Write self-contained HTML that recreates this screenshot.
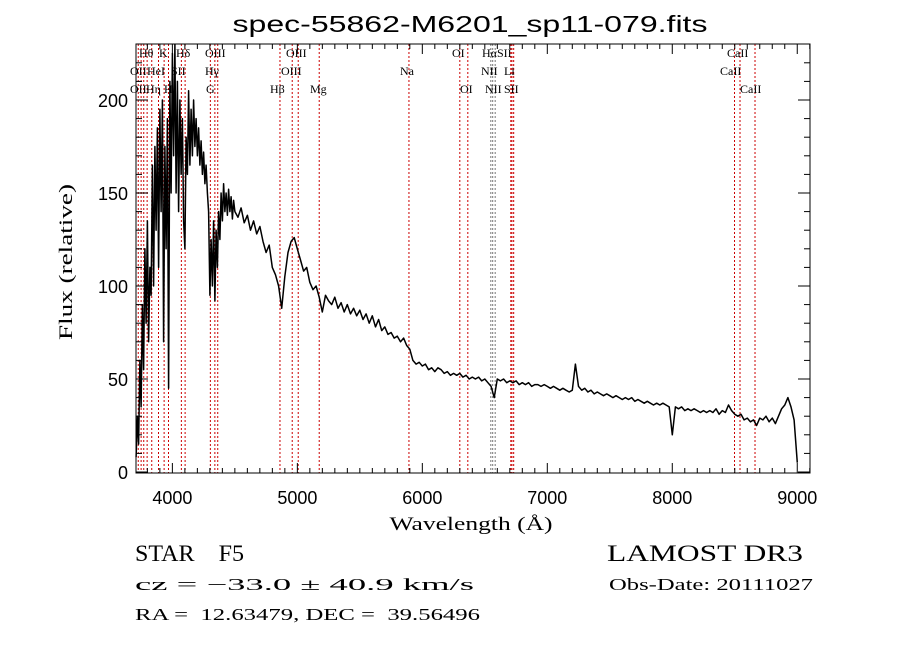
<!DOCTYPE html>
<html><head><meta charset="utf-8"><style>
html,body{margin:0;padding:0;background:#fff;}
svg{display:block;}
.t{font-family:"Liberation Sans","DejaVu Sans",sans-serif;fill:#000;}
.s{font-family:"Liberation Serif","DejaVu Serif",serif;fill:#000;white-space:pre;}
</style></head><body>
<svg id="chart" width="900" height="649" viewBox="0 0 900 649">
<rect width="900" height="649" fill="#fff"/>
<text class="t" x="470" y="32" text-anchor="middle" font-size="23" textLength="475" lengthAdjust="spacingAndGlyphs">spec-55862-M6201_sp11-079.fits</text>
<g id="lines"></g>
<g id="axes"></g>
<path id="spec" fill="none" stroke="#000" stroke-width="1.5" stroke-linejoin="round"/>
<rect x="136" y="44" width="674" height="429" fill="none" stroke="#000" stroke-width="1"/>
<text class="s" x="471" y="530" text-anchor="middle" font-size="19" textLength="163" lengthAdjust="spacingAndGlyphs">Wavelength (Å)</text>
<text class="s" transform="translate(72,262) rotate(-90)" text-anchor="middle" font-size="19" textLength="156" lengthAdjust="spacingAndGlyphs">Flux (relative)</text>
<text class="s" x="135" y="561" font-size="23" xml:space="preserve" textLength="109" lengthAdjust="spacingAndGlyphs">STAR    F5</text>
<text class="s" x="607" y="561" font-size="23" textLength="196" lengthAdjust="spacingAndGlyphs">LAMOST DR3</text>
<text class="s" x="135" y="590" font-size="17" textLength="339" lengthAdjust="spacingAndGlyphs">cz = −33.0 ± 40.9 km/s</text>
<text class="s" x="609" y="590" font-size="17" textLength="204" lengthAdjust="spacingAndGlyphs">Obs-Date: 20111027</text>
<text class="s" x="135" y="620" font-size="17" xml:space="preserve" textLength="345" lengthAdjust="spacingAndGlyphs">RA =  12.63479, DEC =  39.56496</text>
</svg>
<script>
// blue part: 3710..4500 Å, 10 Å sampling
const blueStart=3710, blueStep=10;
const blueFlux=[8,30,15,60,35,90,55,120,80,135,
70,110,95,165,100,175,130,185,110,195,
140,200,70,175,120,190,45,210,150,225,
170,230,150,210,140,200,160,190,135,120,
180,160,205,165,195,170,200,175,190,170,
185,165,178,160,172,155,165,150,140,95,
125,100,135,92,130,110,140,125,150,135,
155,140,150,138,152,140,148,136,146,140];
// red part: 4500..9000 Å, 25 Å sampling
const redStart=4500, redStep=25;
const redFlux=[140,137,142,134,138,130,135,128,132,124,
118,122,110,106,100,88,105,118,124,126,
120,114,108,110,102,98,100,94,86,95,
92,90,94,88,91,86,90,85,88,84,
87,82,85,80,84,78,82,76,78,74,
75,72,73,70,72,68,66,60,58,59,
57,58,55,56,54,56,55,53,54,52,
53,52,53,51,52,50,51,50,51,49,
50,48,46,40,50,49,50,48,49,48,
49,47,48,47,48,46,47,47,46,47,
46,45,46,45,44,45,44,43,44,58,
46,44,45,43,44,42,43,42,41,42,
41,40,41,40,39,40,39,40,38,39,
38,37,38,37,36,37,36,37,36,35,
20,35,34,35,33,34,33,34,33,32,
33,32,33,32,34,31,33,32,36,33,
31,30,31,28,29,27,28,25,29,28,
30,27,29,26,30,34,36,40,35,28,
5];
const lineWaves=[3727,3750,3771,3798,3835,3889,3934,3969,4072,4102,4304,4340,4363,4861,4959,5007,5175,5893,6300,6364,6548,6563,6583,6708,6717,6731,8498,8542,8662];
const lineLabels=[["Hθ",139,57],["K",159,57],["Hδ",176,57],["OIII",205,57],["OIII",286,57],["OI",452,57],["HαSII",482,57],["CaII",727,57],["OII",130,75],["HeI",147,75],["SII",171,75],["Hγ",205,75],["OIII",281,75],["Na",400,75],["NII",481,75],["Li",504,75],["CaII",720,75],["OII",130,93],["Hη",146,93],["H",164,93],["G",206,93],["Hβ",270,93],["Mg",310,93],["OI",460,93],["NII",485,93],["SII",504,93],["CaII",740,93]];
const xTicks=[4000,5000,6000,7000,8000,9000];
const yTicks=[0,50,100,150,200];
const X0=136,X1=810,W0=3709,W1=9102;
function xs(w){return X0+(w-W0)/(W1-W0)*(X1-X0);}
function ys(v){return 472-1.86*v;}
const NS="http://www.w3.org/2000/svg";
function mk(tag,attrs,parent){const e=document.createElementNS(NS,tag);for(const k in attrs)e.setAttribute(k,attrs[k]);parent.appendChild(e);return e;}
const lg=document.getElementById('lines');
lineWaves.forEach(w=>{
  const l=mk('line',{x1:xs(w),x2:xs(w),y1:44,y2:473,stroke:(w>6540&&w<6590)?'#777':'#c00',"stroke-width":1,"stroke-dasharray":"2,2"},lg);
  
  
});
lineLabels.forEach(a=>{
  const t=mk('text',{x:a[1],y:a[2],class:'s',"font-size":12},lg);
  t.textContent=a[0];
  
  
});
const ax=document.getElementById('axes');
for(let w=3800;w<=9100;w+=100){
  const major=w%1000===0, len=major?10:5;
  const a=mk('line',{x1:xs(w),x2:xs(w),y1:473,y2:473-len,stroke:'#000'},ax);
  
  
  const b=mk('line',{x1:xs(w),x2:xs(w),y1:44,y2:44+len,stroke:'#000'},ax);
  
  
}
xTicks.forEach(w=>{
  const t=mk('text',{x:xs(w),y:504,class:'t',"font-size":18,"text-anchor":"middle"},ax);
  t.textContent=String(w);
  
  
});
for(let v=0;v<=220;v+=10){
  const major=v%50===0,len=major?12:6;
  const a=mk('line',{x1:136,x2:136+len,y1:ys(v),y2:ys(v),stroke:'#000'},ax);
  
  
  const b=mk('line',{x1:810,x2:810-len,y1:ys(v),y2:ys(v),stroke:'#000'},ax);
  
  
}
yTicks.forEach(v=>{
  const t=mk('text',{x:128,y:ys(v)+7,class:'t',"font-size":18,"text-anchor":"end"},ax);
  t.textContent=String(v);
  
  
});
let d='';
blueFlux.forEach((f,i)=>{const w=blueStart+i*blueStep;d+=(d?'L':'M')+xs(w).toFixed(1)+' '+ys(f).toFixed(1);});
redFlux.forEach((f,i)=>{if(i===0)return;const w=redStart+i*redStep;d+='L'+xs(w).toFixed(1)+' '+ys(f).toFixed(1);});
document.getElementById('spec').setAttribute('d',d);
</script>
</body></html>
